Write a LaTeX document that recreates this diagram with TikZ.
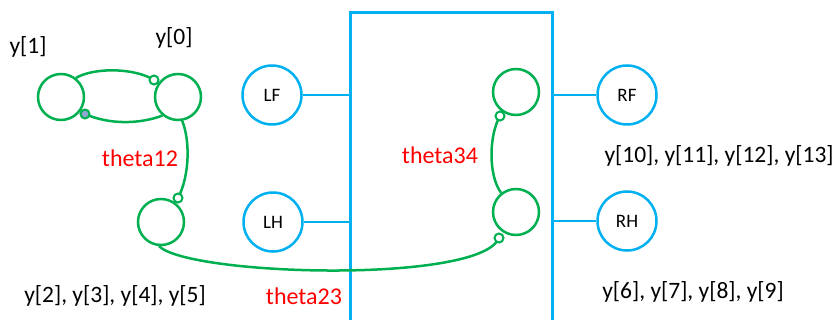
\documentclass[tikz,border=0pt]{standalone}
\usepackage{fontspec}
\setmainfont{Carlito}
\definecolor{lgreen}{RGB}{0,176,80}
\definecolor{lblue}{RGB}{0,176,240}
\definecolor{dotfill}{RGB}{143,165,210}
\tikzset{
  joint/.style={circle, draw=lgreen, line width=2.5pt, minimum size=46pt, inner sep=0pt},
  limb/.style={circle, draw=lblue, line width=2.5pt, minimum size=59pt, inner sep=0pt, font=\fontsize{19}{22}\selectfont},
  pin/.style={circle, draw=lgreen, line width=2pt, fill=white, minimum size=9pt, inner sep=0pt},
  pinfilled/.style={pin, fill=dotfill},
  link/.style={draw=lgreen, line width=2.5pt},
  bar/.style={draw=lblue, line width=2.5pt},
  lbl/.style={font=\fontsize{23.5}{27}\selectfont, inner sep=0pt},
  angle/.style={lbl, text=red, font=\fontsize{24}{28}\selectfont}
}
\begin{document}
\begin{tikzpicture}[x=1pt, y=-1pt]
\useasboundingbox (0,0) rectangle (837,320);

% body frame (open at the bottom)
\coordinate (boxL) at (350.5,12.5);
\coordinate (boxR) at (552.5,12.5);
\draw[bar] (350.5,325) -- (boxL) -- (boxR) -- (552.5,325);

% limbs
\node[limb] (LF) at (272,95) {LF};
\node[limb] (LH) at (273,222) {LH};
\node[limb] (RF) at (627,95) {RF};
\node[limb] (RH) at (627,221) {RH};
\draw[bar] (LF.east) -- (LF -| boxL);
\draw[bar] (LH.east) -- (LH -| boxL);
\draw[bar] (RF.west) -- (RF -| boxR);
\draw[bar] (RH.west) -- (RH -| boxR);

% joints
\node[joint] (y1) at (61,97) {};
\node[joint] (y0) at (178,97) {};
\node[joint] (j2) at (161,222) {};
\node[joint] (j3) at (516,92) {};
\node[joint] (j4) at (516,212) {};

% links between joints
\draw[link] (y1.52) .. controls (95,67) and (135,68) .. (154,80);
\draw[link] (85,114) .. controls (110,125) and (140,124) .. (y0.230);
\draw[link] (y0.-80) .. controls (190,140) and (190,175) .. (178,198);
\draw[link] (j2.-95) .. controls (190,276) and (480,284) .. (499,238);
\draw[link] (500,116) .. controls (489,135) and (488,175) .. (j4.128);

% pins
\node[pin] (p1) at (154,80) {};
\node[pinfilled] (p2) at (85,114) {};
\node[pin] (p3) at (178,198) {};
\node[pin] (p4) at (499,238) {};
\node[pin] (p5) at (500,116) {};

% labels
\node[lbl] (t1) at (28,47) {y[1]};
\node[lbl] (t0) at (174,38) {y[0]};
\node[lbl] (t2) at (115,296) {y[2], y[3], y[4], y[5]};
\node[lbl] (t10) at (719,156) {y[10], y[11], y[12], y[13]};
\node[lbl] (t6) at (693,292) {y[6], y[7], y[8], y[9]};
\node[angle] (a12) at (140,158) {theta12};
\node[angle] (a34) at (440,155) {theta34};
\node[angle] (a23) at (304,296) {theta23};
\end{tikzpicture}
\end{document}
